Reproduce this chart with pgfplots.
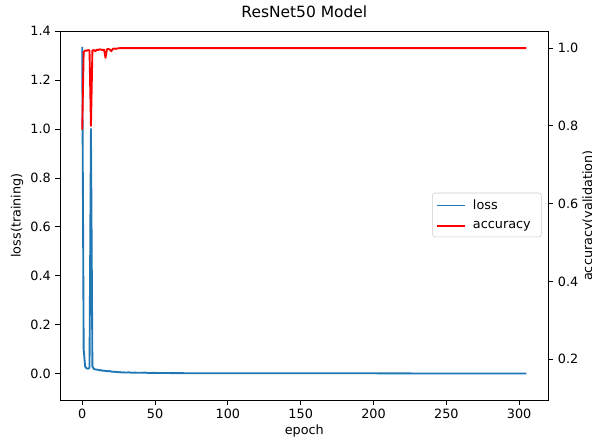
\documentclass[border=0pt]{standalone}
\usepackage{fontspec}
\setmainfont{DejaVu Sans}
\usepackage{pgfplots}
\usepackage{pgfplotstable}
\pgfplotsset{compat=1.18}

\definecolor{tabblue}{HTML}{1F77B4}

\pgfplotstableread{
epoch loss
0 1.335
1 0.10
2 0.030
3 0.022
4 0.021
5 0.024
6 1.000
7 0.030
8 0.020
9 0.018
10 0.017
11 0.016
12 0.014
13 0.015
14 0.012
15 0.013
16 0.011
17 0.012
18 0.010
19 0.011
20 0.009
21 0.008
22 0.009
23 0.007
24 0.008
25 0.006
26 0.007
27 0.005
28 0.006
30 0.005
32 0.006
34 0.004
36 0.005
38 0.004
40 0.004
43 0.005
46 0.003
49 0.004
52 0.003
60 0.003
80 0.002
100 0.002
150 0.002
200 0.002
250 0.001
305 0.001
}\losstable

\pgfplotstableread{
epoch acc
0 0.790
1 0.990
2 0.994
3 0.993
4 0.995
5 0.994
6 0.800
7 0.994
8 0.995
9 0.992
10 0.996
11 0.995
12 0.997
13 0.996
14 0.995
15 0.996
16 0.975
17 0.997
18 0.998
19 0.996
20 0.992
21 0.998
22 0.999
23 0.998
24 0.999
26 1.000
305 1.000
}\acctable

\pgfplotsset{
  common/.style={
    scale only axis, width=366.5pt, height=276.75pt,
    xmin=-15.25, xmax=320.25,
    tick align=outside, major tick length=3.4pt,
    axis line style={line width=0.6pt},
    every tick/.style={line width=0.6pt, black},
    tick label style={font=\fontsize{9.6}{11}\selectfont, /pgf/number format/assume math mode=true},
    label style={font=\fontsize{9.6}{11}\selectfont},
    yticklabel style={/pgf/number format/.cd, fixed, fixed zerofill, precision=1},
  },
}

\begin{document}
\begin{tikzpicture}
\begin{axis}[common, name=ax,
    ymin=-0.107, ymax=1.4,
    xtick={0,50,100,150,200,250,300},
    ytick={0,0.2,0.4,0.6,0.8,1.0,1.2,1.4},
    xtick pos=lower, ytick pos=left,
    title={ResNet50 Model},
    title style={font=\fontsize{11.6}{13}\selectfont, at={(axis description cs:0.5,1)}, anchor=center, yshift=8.25pt},
    xlabel={epoch},
    xlabel style={at={(axis description cs:0.5,0)}, anchor=center, yshift=-23pt},
    ylabel={loss(training)},
    ylabel style={at={(axis description cs:0,0.5)}, anchor=center, yshift=32.25pt},
    legend style={at={(axis description cs:1,0.5)}, anchor=east, xshift=-5.25pt, yshift=0.4pt,
      draw=black!20, rounded corners=2pt, font=\fontsize{9.6}{11}\selectfont,
      inner xsep=3pt, inner ysep=3pt, row sep=3.25pt,
      nodes={inner xsep=5pt}},
    legend cell align=left,
    legend image code/.code={\draw[#1] (0pt,0pt) -- (21pt,0pt);},
  ]
  \addplot[color=tabblue, line width=1.4pt, line join=round] table[x=epoch, y=loss] {\losstable};
  \addlegendentry{loss}
  \addlegendimage{color=red, line width=1.4pt}
  \addlegendentry{accuracy}
\end{axis}
\begin{axis}[common,
    at={(ax.south west)}, anchor=south west,
    ymin=0.095, ymax=1.044,
    axis x line=none, axis y line*=right,
    ytick={0.2,0.4,0.6,0.8,1.0},
    ylabel={accuracy(validation)},
    ylabel style={at={(axis description cs:1,0.5)}, anchor=center, yshift=-30pt},
  ]
  \addplot[red, line width=1.4pt, line join=round] table[x=epoch, y=acc] {\acctable};
\end{axis}
\pgfresetboundingbox
\path ([shift={(-45pt,-30.75pt)}]ax.south west) rectangle ([shift={(32.5pt,23.25pt)}]ax.north east);
\end{tikzpicture}
\end{document}
